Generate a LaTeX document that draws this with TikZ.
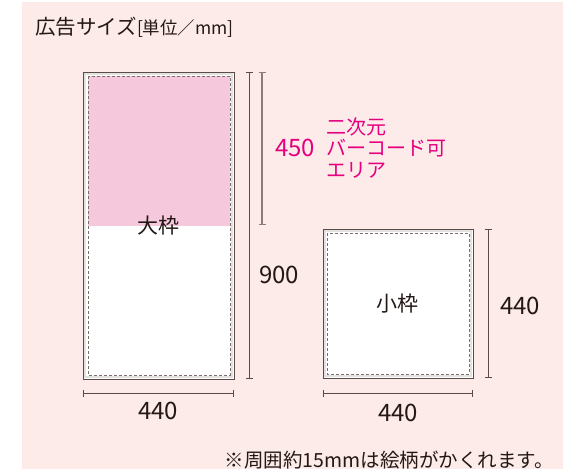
\documentclass[tikz,border=0pt]{standalone}
\usepackage{fontspec}
\setmainfont{Noto Sans CJK JP}
\usetikzlibrary{arrows.meta}
\definecolor{bgpink}{HTML}{FCEBE8}
\definecolor{areapink}{HTML}{F5C8DC}
\definecolor{darkline}{HTML}{5B4B47}
\definecolor{lightline}{HTML}{8C7B77}
\definecolor{magenta}{HTML}{E5007F}
\definecolor{txt}{HTML}{231815}
\definecolor{bandgray}{HTML}{E4E1E1}
\tikzset{
  frameline/.style={draw=darkline, line width=0.9pt, fill=white},
  band/.style={draw=bandgray, line width=1.2pt},
  dashline/.style={draw=darkline!80, line width=0.8pt, dash pattern=on 3pt off 2pt},
  dimline/.style={draw=darkline, line width=1pt, {Bar[width=7pt,line width=1pt]}-{Bar[width=7pt,line width=1pt]}},
  dimlight/.style={draw=lightline, line width=1.3pt, {Bar[width=7pt,line width=1.3pt]}-{Bar[width=7pt,line width=1.3pt]}},
  lbl/.style={text=txt, inner sep=0pt, font=\fontsize{21}{23}\selectfont},
  num/.style={text=txt, inner sep=0pt, font=\fontsize{24}{26}\selectfont},
}
\begin{document}
\begin{tikzpicture}[x=1pt,y=-1pt]
\useasboundingbox (0,0) rectangle (563,469);
\fill[bgpink] (22,2) rectangle (563,469);
% title
\node[lbl, anchor=west, font=\fontsize{20.5}{22}\selectfont] (title) at (35,27) {広告サイズ{\fontsize{17.5}{19}\selectfont[単位／mm]}};
% big frame
\coordinate (bTL) at (83,72);
\coordinate (bBR) at (234,379);
\path[frameline] (bTL) rectangle (bBR);
\draw[band] (85,74) rectangle (232,377);
\fill[areapink] (88,76) rectangle (230,226);
\draw[dashline] (88,76) rectangle (230,375);
\node[lbl] (bigl) at (158,226) {大枠};
% dims of big frame
\coordinate (d9t) at (249,72);
\coordinate (d9b) at (249,379);
\draw[dimline] (d9t) -- (d9b);
\node[num] (n900) at (279,275) {900};
\coordinate (d4t) at (262,72);
\coordinate (d4b) at (262,225);
\draw[dimlight] (d4t) -- (d4b);
\node[num, text=magenta] (n450) at (295,148) {450};
\node[lbl, text=magenta, anchor=west, align=left, font=\fontsize{20}{21.5}\selectfont] (area) at (326,148) {二次元\\バーコード可\\エリア};
\coordinate (bhl) at (83,393);
\coordinate (bhr) at (234,393);
\draw[dimline] (bhl) -- (bhr);
\node[num] (bw) at (158,411) {440};
% small frame
\coordinate (sTL) at (323,229);
\coordinate (sBR) at (473,378);
\path[frameline] (sTL) rectangle (sBR);
\draw[band] (325,231) rectangle (471,376);
\draw[dashline] (327,233) rectangle (469,374);
\node[lbl] (smalll) at (397,304) {小枠};
\coordinate (svt) at (488,229);
\coordinate (svb) at (488,378);
\draw[dimline] (svt) -- (svb);
\node[num] (sh) at (520,306) {440};
\coordinate (shl) at (323,393);
\coordinate (shr) at (473,393);
\draw[dimline] (shl) -- (shr);
\node[num] (sw) at (398,413) {440};
% footnote
\node[lbl, anchor=east, font=\fontsize{19.5}{21}\selectfont] (note) at (554,460) {※周囲約15mmは絵柄がかくれます。};
\end{tikzpicture}
\end{document}
